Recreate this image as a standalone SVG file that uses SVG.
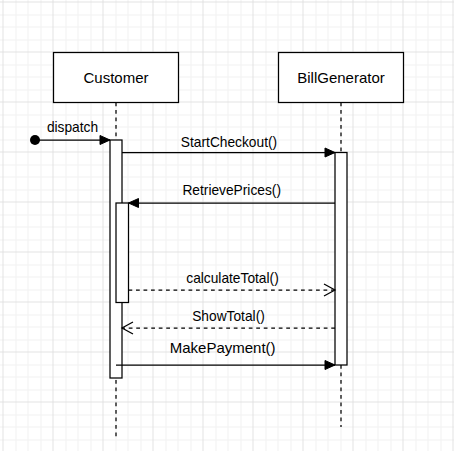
<svg xmlns="http://www.w3.org/2000/svg" width="454" height="451" viewBox="0 0 454 451">
  <style>
    .box { fill: #ffffff; stroke: #000000; stroke-width: 1.25; }
    .bar { fill: #ffffff; stroke: #000000; stroke-width: 1.25; }
    .life { fill: none; stroke: #000000; stroke-width: 1.25; stroke-dasharray: 3.75 3.75; }
    .msg { fill: none; stroke: #000000; stroke-width: 1.25; }
    .ret { fill: none; stroke: #000000; stroke-width: 1.25; stroke-dasharray: 3.75 3.75; }
    .node-text { font-family: "Liberation Sans", Arial, Helvetica, sans-serif; font-size: 15px; fill: #000000; text-anchor: middle; }
    .lbl { font-family: "Liberation Sans", Arial, Helvetica, sans-serif; font-size: 13.75px; fill: #000000; text-anchor: middle; }
  </style>
  <defs>
    <pattern id="grid" patternUnits="userSpaceOnUse" x="2.5" y="1.5" width="50" height="50">
      <g shape-rendering="crispEdges" stroke-width="1">
        <path d="M13 0V50M25.5 0V50M38 0V50M0 13H50M0 25.5H50M0 38H50" stroke="#f1f1f1"/>
        <path d="M0.5 0V50M0 0.5H50" stroke="#e2e2e2"/>
      </g>
    </pattern>
    <marker id="block" markerUnits="userSpaceOnUse" markerWidth="12" markerHeight="12" refX="10" refY="4.5" orient="auto" overflow="visible">
      <path d="M0,0 L10,4.5 L0,9 Z" fill="#000000" stroke="#000000" stroke-width="1"/>
    </marker>
    <marker id="open" markerUnits="userSpaceOnUse" markerWidth="14" markerHeight="14" refX="11" refY="6" orient="auto" overflow="visible">
      <path d="M0,0 L11,6 L0,12" fill="none" stroke="#000000" stroke-width="1.25"/>
    </marker>
  </defs>

  <rect x="0" y="0" width="454" height="451" fill="#ffffff"/>
  <rect x="0" y="0" width="454" height="451" fill="url(#grid)"/>

  <g id="customer">
    <rect class="box" x="53.5" y="52.5" width="125" height="50"/>
    <text class="node-text" x="116" y="83">Customer</text>
    <line class="life" x1="116" y1="102.5" x2="116" y2="437"/>
    <rect class="bar" x="110" y="140" width="12" height="238"/>
    <rect class="bar" x="116" y="203" width="12.5" height="99.5"/>
  </g>

  <g id="billgenerator">
    <rect class="box" x="278.5" y="52.5" width="125" height="50"/>
    <text class="node-text" x="341" y="83">BillGenerator</text>
    <line class="life" x1="341" y1="102.5" x2="341" y2="427"/>
    <rect class="bar" x="335" y="152.5" width="12" height="212.5"/>
  </g>

  <g id="start">
    <circle cx="35" cy="140" r="5" fill="#000000"/>
  </g>

  <g id="connectors">
    <line class="msg" x1="35" y1="140" x2="110" y2="140" marker-end="url(#block)"/>
    <text class="lbl" x="72.5" y="132.3">dispatch</text>

    <line class="msg" x1="122" y1="152.5" x2="335" y2="152.5" marker-end="url(#block)"/>
    <text class="lbl" x="229" y="146.7">StartCheckout()</text>

    <line class="msg" x1="335" y1="203" x2="128.5" y2="203" marker-end="url(#block)"/>
    <text class="lbl" x="231.7" y="195">RetrievePrices()</text>

    <line class="ret" x1="128.5" y1="290" x2="335" y2="290" marker-end="url(#open)"/>
    <text class="lbl" x="232.5" y="283.3">calculateTotal()</text>

    <line class="ret" x1="335" y1="328" x2="122" y2="328" marker-end="url(#open)"/>
    <text class="lbl" x="228.5" y="320.7">ShowTotal()</text>

    <line class="msg" x1="116" y1="365" x2="335" y2="365" marker-end="url(#block)"/>
    <text class="node-text" x="222.7" y="353.3">MakePayment()</text>
  </g>
</svg>
